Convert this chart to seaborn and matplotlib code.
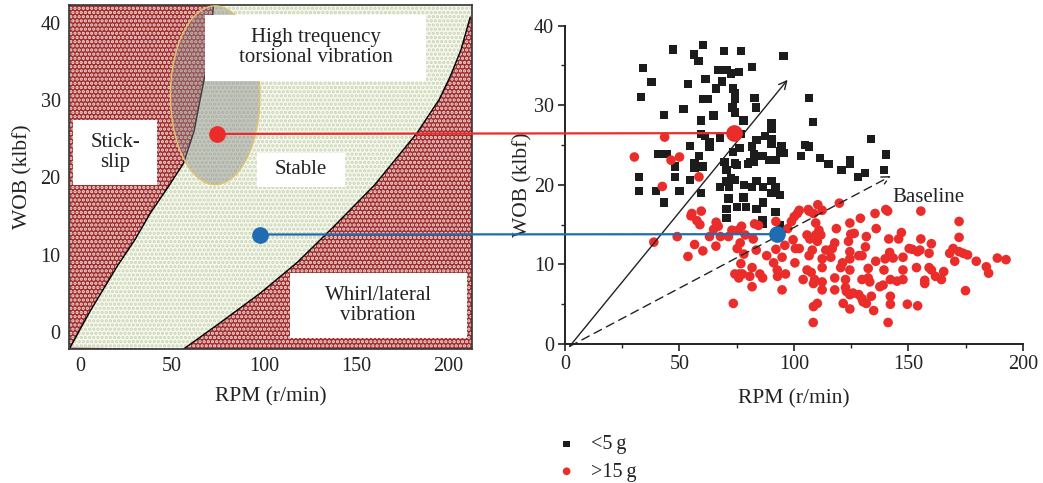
import numpy as np
import pandas as pd
import matplotlib.pyplot as plt
import seaborn as sns
from matplotlib.patches import Ellipse, Rectangle
from matplotlib.patches import ConnectionPatch

sns.set_style("white")
plt.rcParams['font.family'] = ['Liberation Serif', 'DejaVu Serif']
plt.rcParams['hatch.linewidth'] = 1.6

# ---- left panel: stability map boundaries ----
left_curve_x = [-5.4, 5.0, 19.9, 30.0, 38.0, 48.0, 56.2, 62.0, 65.2, 68.8, 71.0, 72.5]
left_curve_y = [-2.0, 2.5, 8.4, 12.0, 15.3, 18.8, 21.8, 26.0, 30.0, 34.3, 38.0, 42.3]
right_curve_x = [56.2, 75.0, 97.8, 118.0, 137.7, 160.0, 183.0, 195.0, 201.1, 207.0, 212.0]
right_curve_y = [-2.2, 1.0, 5.0, 9.0, 13.6, 19.0, 25.7, 30.0, 33.0, 36.5, 40.7]

ellipse_center = (73.4, 30.6)
ellipse_size = (48.6, 23.1)

region_labels = ["High trequency\ntorsional vibration", "Stick-\nslip", "Stable",
                 "Whirl/lateral\nvibration"]
label_boxes = [(68, 32.5, 120, 8.5), (-3.6, 19.0, 45.3, 8.4), (96, 18.8, 48, 4.3),
               (114, -0.8, 96, 8.4)]

# operating points in the map (stick-slip and stable)
map_rpm = [74.3, 97.5]
map_wob = [25.6, 12.6]

# ---- right panel: field data ----
low_rpm = [34.2, 37.8, 33.2, 47.1, 60.2, 56.4, 58.3, 69.5, 76.9, 95.4, 81.7, 66.8, 70.5, 72.4,
           76.1, 53.7, 61.4, 68.5, 65.9, 73.5, 74.2, 74.2, 60.2, 62.3, 82.8, 83.5, 51.8, 43.3,
           73.2, 74.2, 64.9, 59.3, 78.0, 106.6, 108.4, 90.2, 90.2, 59.3, 67.6, 61.2, 63.1, 63.1,
           54.7, 76.9, 83.6, 87.3, 90.2, 90.2, 81.6, 76.2, 73.5, 94.5, 93.8, 95.6, 104.7, 106.6,
           103.0, 111.4, 115.1, 120.7, 124.5, 124.5, 133.7, 140.2, 139.3, 130.9, 128.1, 40.7,
           44.4, 48.1, 58.5, 56.6, 56.6, 60.2, 48.1, 54.7, 32.3, 32.3, 39.7, 50.0, 59.3, 43.3,
           69.7, 70.5, 74.2, 75.2, 79.9, 80.7, 82.6, 82.6, 86.3, 89.1, 92.0, 72.4, 74.2, 70.5,
           78.2, 83.6, 90.2, 67.6, 71.6, 81.6, 86.4, 92.0, 90.2, 93.8, 71.4, 78.0, 86.4, 70.5,
           75.2, 79.0, 83.6, 91.9, 70.5, 86.3, 86.3, 93.8]
low_wob = [34.7, 32.9, 31.0, 37.0, 37.6, 36.4, 35.6, 36.8, 36.8, 36.2, 34.8, 34.4, 34.4, 34.0,
           34.2, 32.7, 33.3, 33.0, 32.1, 32.1, 31.5, 30.8, 30.8, 30.8, 30.9, 29.7, 29.5, 28.8,
           29.7, 29.1, 28.7, 28.1, 28.1, 30.9, 27.9, 27.7, 27.1, 26.4, 25.9, 26.1, 25.4, 24.8,
           24.9, 26.4, 25.6, 26.1, 25.8, 25.2, 24.8, 24.6, 24.1, 24.9, 24.2, 24.0, 25.0, 24.8,
           23.6, 23.4, 22.6, 21.9, 23.1, 22.6, 25.8, 23.8, 21.9, 21.5, 21.0, 23.9,
           23.9, 22.3, 23.6, 22.7, 22.1, 22.3, 21.0, 20.6, 21.0, 19.2, 19.2, 19.2, 19.0, 17.8,
           22.9, 21.9, 22.7, 22.5, 22.6, 22.9, 23.9, 22.9, 23.6, 23.1, 23.1, 20.8, 20.6, 20.4,
           20.0, 20.5, 20.5, 19.7, 19.7, 19.7, 19.7, 19.7, 19.0, 18.7, 18.3, 18.4, 17.8, 17.0,
           17.2, 17.2, 17.0, 16.6, 15.8, 15.6, 15.1, 14.9]

high_rpm = [30.3, 43.5, 46.3, 50.0, 58.5, 42.5, 38.8, 49.0, 53.7, 55.4, 55.0, 56.6, 59.5, 57.6,
            58.9, 60.2, 63.1, 64.9, 66.0, 66.9, 65.9, 67.9, 71.4, 72.9, 75.6, 77.1, 76.5, 75.2,
            78.1, 76.8, 74.2, 76.1, 75.9, 77.5, 73.5, 80.7, 81.7, 81.7, 78.7, 82.2, 83.5, 82.8,
            84.5, 85.1, 86.3, 88.1, 91.1, 92.1, 92.1, 92.7, 92.8, 94.8, 94.8, 96.0, 96.3, 97.3,
            98.9, 100.1, 101.5, 102.3, 99.6, 100.6, 102.3, 100.4, 104.0, 106.3, 106.6, 108.5,
            110.4, 112.3, 105.7, 106.9, 109.5, 110.2, 111.7, 109.5, 110.9, 108.0, 106.6, 105.7,
            107.5, 109.0, 108.5, 108.5, 110.2, 108.4, 112.3, 112.3, 112.3, 112.3, 113.9, 116.1,
            116.7, 117.8, 118.5, 119.8, 117.8, 117.8, 121.5, 120.4, 121.2, 122.5, 122.5, 122.9,
            124.4, 124.8, 126.3, 124.4, 124.4, 124.4, 123.8, 124.4, 125.8, 124.4, 129.0, 128.3,
            129.7, 129.7, 128.3, 129.7, 130.2, 131.6, 131.2, 131.6, 132.4, 132.4, 133.1, 133.8,
            134.8, 135.4, 135.9, 135.7, 137.5, 138.9, 139.3, 139.8, 140.1, 140.9, 141.4, 141.8,
            142.1, 142.1, 142.1, 141.1, 143.3, 145.0, 145.7, 146.9, 147.6, 147.6, 147.6, 149.5,
            150.3, 151.6, 154.0, 153.5, 154.0, 155.0, 155.4, 155.4, 157.1, 157.1, 159.0, 159.0,
            160.0, 160.0, 161.8, 164.4, 165.4, 168.0, 169.5, 170.2, 172.1, 172.1, 172.1, 173.9,
            175.8, 174.9, 179.6, 184.0, 185.0, 188.8, 192.6]
high_wob = [23.5, 26.0, 23.1, 23.5, 21.0, 19.8, 12.8, 13.5, 11.0, 16.4, 16.1, 12.5, 16.7, 15.5,
            15.0, 11.7, 13.5, 14.4, 15.3, 14.8, 12.3, 13.5, 13.5, 14.3, 14.3, 14.8, 12.7, 12.0,
            11.3, 10.1, 8.8, 8.8, 8.3, 8.8, 5.1, 8.5, 9.6, 7.2, 13.7, 13.2, 11.8, 15.1,
            14.9, 8.8, 8.3, 11.1, 10.2, 11.9, 15.4, 9.3, 8.5, 6.8, 10.9, 12.4, 8.8, 14.5,
            15.4, 16.0, 16.4, 16.8, 13.1, 12.0, 12.0, 10.2, 8.1, 16.9, 16.7, 16.4,
            17.5, 16.8, 13.7, 13.2, 13.7, 12.9, 13.7, 15.2, 14.3, 11.8, 11.1, 9.3,
            9.0, 8.1, 7.6, 4.7, 5.1, 2.7, 10.7, 9.6, 7.8, 6.8, 11.8, 10.9,
            12.0, 12.7, 14.5, 17.7, 8.3, 6.8, 5.1, 9.6, 10.2, 8.1, 7.1, 6.6,
            15.2, 13.8, 13.9, 11.6, 10.7, 9.3, 12.9, 6.2, 6.4, 4.4, 15.8, 11.1,
            11.1, 8.1, 6.2, 5.7, 5.3, 5.1, 12.2, 13.5, 9.5, 8.3, 7.8, 6.0,
            4.2, 16.4, 14.5, 10.4, 7.2, 7.4, 9.3, 10.7, 16.9, 16.7, 13.2, 11.5,
            8.1, 6.0, 5.0, 2.7, 10.8, 7.9, 13.2, 14.0, 10.9, 9.3, 8.1, 5.0,
            12.0, 11.9, 11.6, 9.6, 4.8, 11.8, 13.2, 16.7, 7.6, 8.0, 11.4, 9.6,
            9.3, 12.6, 8.5, 8.1, 9.1, 11.4, 12.0, 10.4, 13.4, 15.4, 11.6, 11.4,
            11.2, 6.7, 10.4, 9.7, 8.9, 10.8, 10.6]

groups = ["<5\u2009g", ">15\u2009g"]

# highlighted field points matching the map
field_rpm = [73.9, 92.4]
field_wob = [26.5, 13.8]

# arrows: start and end (RPM, WOB)
solid_arrow = [(2, -0.3), (97.2, 33.2)]
dashed_arrow = [(2, -0.3), (142.3, 21.1)]

red = '#ea2d2a'
blue = '#1f6cb2'
ink = '#222222'

fig = plt.figure(figsize=(10.43, 4.83), dpi=100)
ax1 = fig.add_axes([0.0662, 0.2774, 0.3864, 0.7128])
ax2 = fig.add_axes([0.5417, 0.2878, 0.4391, 0.659])

# ---------------- left panel ----------------
x0, x1 = -6, 213
y0, y1 = -2.2, 42.3
ax1.add_patch(Rectangle((x0, y0), x1 - x0, y1 - y0, facecolor='#a02c2c',
                        edgecolor='#f0dcdc', hatch='....', lw=0, zorder=0))
poly_x = left_curve_x + [x1, x1] + right_curve_x[::-1]
poly_y = left_curve_y + [y1, right_curve_y[-1]] + right_curve_y[::-1]
ax1.fill(poly_x, poly_y, facecolor='#f7f8f0', edgecolor='#c9d5b2', hatch='....',
         lw=0, zorder=1)
ax1.plot(left_curve_x, left_curve_y, color='black', lw=1.0, zorder=2)
ax1.plot(right_curve_x, right_curve_y, color='black', lw=1.0, zorder=2)

ax1.add_patch(Ellipse(ellipse_center, ellipse_size[0], ellipse_size[1], facecolor='#8a8a8a',
                      alpha=0.45, edgecolor='none', zorder=3))
ax1.add_patch(Ellipse(ellipse_center, ellipse_size[0], ellipse_size[1], facecolor='none',
                      edgecolor='#e2c36c', lw=1.0, zorder=3))

for lab, (bx, by, bw, bh) in zip(region_labels, label_boxes):
    ax1.add_patch(Rectangle((bx, by), bw, bh, facecolor='white', edgecolor='none', zorder=4))
    ax1.text(bx + bw / 2, by + bh / 2, lab, ha='center', va='center', fontsize=15,
             linespacing=1.1, zorder=5, color=ink)

ax1.plot(map_rpm[0], map_wob[0], 'o', color=red, ms=11, zorder=6)
ax1.plot(map_rpm[1], map_wob[1], 'o', color=blue, ms=11, zorder=6)

ax1.set_xlim(x0, x1)
ax1.set_ylim(y0, y1)
ax1.set_xticks([0, 50, 100, 150, 200])
ax1.set_yticks([0, 10, 20, 30, 40])
ax1.tick_params(length=0, labelsize=14.5, pad=6, colors=ink)
for s in ax1.spines.values():
    s.set_color('#333333')
    s.set_linewidth(1.2)
ax1.set_xlabel("RPM (r/min)", fontsize=15.5, labelpad=8, color=ink)
ax1.set_ylabel("WOB (klbf)", fontsize=15.5, labelpad=6, color=ink)

# ---------------- right panel ----------------
df = pd.DataFrame({
    'RPM': low_rpm + high_rpm,
    'WOB': low_wob + high_wob,
    'grp': [groups[0]] * len(low_rpm) + [groups[1]] * len(high_rpm),
})
ax2.set_facecolor('none')
sns.scatterplot(data=df[df.grp == groups[0]], x='RPM', y='WOB', ax=ax2, marker='s',
                color='#1c1c1c', s=36, edgecolor='none', label=groups[0], zorder=2)
sns.scatterplot(data=df[df.grp == groups[1]], x='RPM', y='WOB', ax=ax2, marker='o',
                color=red, s=48, edgecolor='none', label=groups[1], zorder=2)

ax2.annotate('', xy=solid_arrow[1], xytext=solid_arrow[0],
             arrowprops=dict(arrowstyle='->', color=ink, lw=1.0,
                             mutation_scale=14, shrinkA=0, shrinkB=0), zorder=3)
ax2.annotate('', xy=dashed_arrow[1], xytext=dashed_arrow[0],
             arrowprops=dict(arrowstyle='->', color=ink, lw=1.0, ls=(0, (6, 4)),
                             mutation_scale=14, shrinkA=0, shrinkB=0), zorder=3)
ax2.text(143, 18.4, "Baseline", fontsize=15, va='center', ha='left', color=ink)

ax2.plot(field_rpm[0], field_wob[0], 'o', color=red, ms=11, zorder=6, clip_on=False)
ax2.plot(field_rpm[1], field_wob[1], 'o', color=blue, ms=11, zorder=6, clip_on=False)

ax2.set_xlim(0, 200)
ax2.set_ylim(0, 40)
ax2.set_xticks([0, 50, 100, 150, 200])
ax2.set_yticks([0, 10, 20, 30, 40])
ax2.set_xticks([25, 75, 125, 175], minor=True)
ax2.set_yticks([5, 15, 25, 35], minor=True)
ax2.tick_params(which='major', direction='out', length=5, width=1.2, labelsize=14.5,
                colors=ink, left=True, bottom=True, pad=3)
ax2.tick_params(which='minor', direction='out', length=3, width=1.0, left=True, bottom=True,
                colors=ink)
sns.despine(ax=ax2)
for s in ['left', 'bottom']:
    ax2.spines[s].set_color(ink)
    ax2.spines[s].set_linewidth(1.4)
ax2.set_xlabel("RPM (r/min)", fontsize=15.5, labelpad=11, color=ink)
ax2.set_ylabel("WOB (klbf)", fontsize=15.5, labelpad=1, color=ink)

leg = ax2.legend(loc='upper left', bbox_to_anchor=(-0.058, -0.23), frameon=False,
                 fontsize=14.5, handlelength=1.0, handletextpad=0.7, labelspacing=0.4,
                 markerscale=0.8)
for t in leg.get_texts():
    t.set_color(ink)

# connecting lines from the map to the field data
for i, col in enumerate([red, blue]):
    con = ConnectionPatch(xyA=(map_rpm[i], map_wob[i]), coordsA=ax1.transData,
                          xyB=(field_rpm[i], field_wob[i]), coordsB=ax2.transData,
                          color=col, lw=1.6, zorder=5)
    con.set_clip_on(False)
    ax2.add_artist(con)

fig.savefig("out.png", dpi=100)
